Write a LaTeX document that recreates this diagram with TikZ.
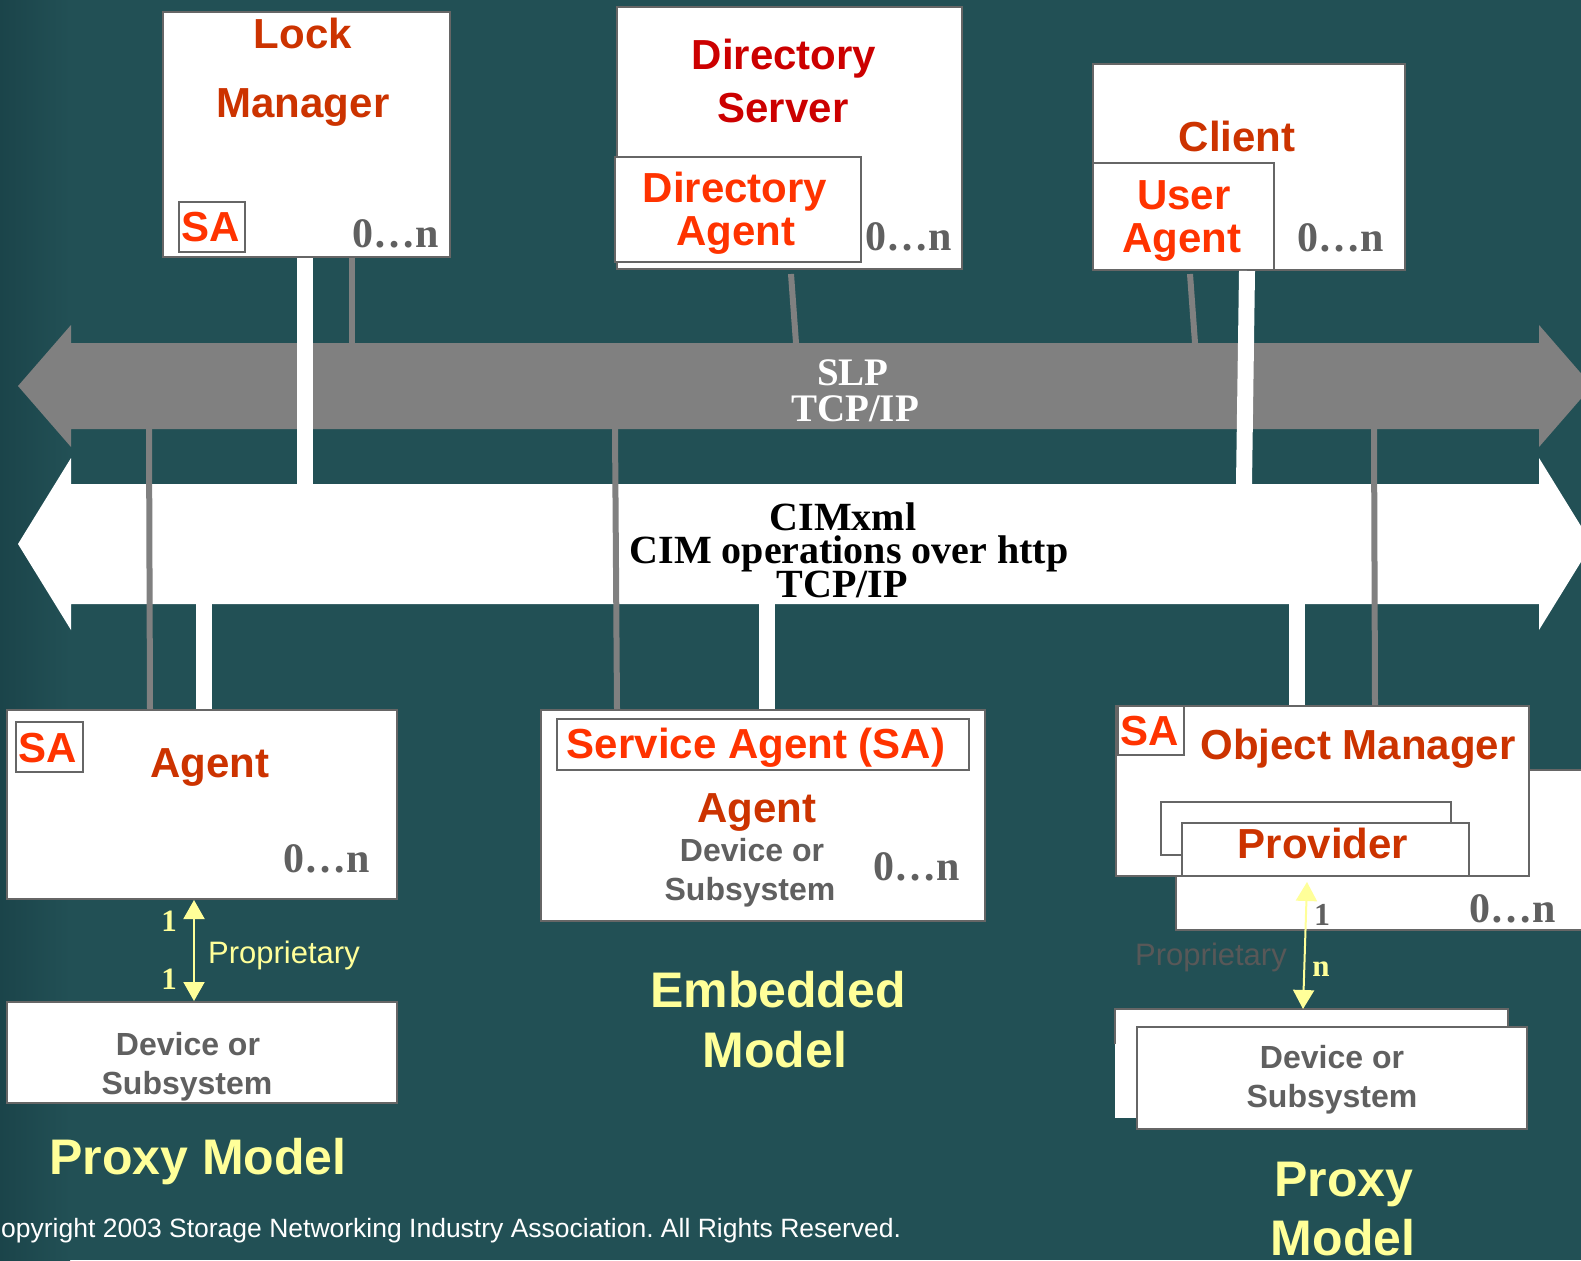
\documentclass[tikz,border=0pt]{standalone}
\usepackage{fontspec}
\setmainfont{Liberation Sans}
\newfontfamily\romanface{Liberation Serif}
\usetikzlibrary{arrows.meta,calc}

\definecolor{bgteal}{RGB}{34,80,85}
\definecolor{bgdark}{RGB}{27,68,74}
\definecolor{bargray}{RGB}{128,128,128}
\definecolor{edgegray}{RGB}{102,102,102}
\definecolor{labelred}{RGB}{204,51,0}
\definecolor{dirred}{RGB}{204,0,0}
\definecolor{brightred}{RGB}{255,51,0}
\definecolor{softyellow}{RGB}{255,255,153}
\definecolor{countgray}{RGB}{96,96,96}
\definecolor{dimgray}{RGB}{88,88,88}

\begin{document}
\begin{tikzpicture}[x=1pt,y=-1pt,
  box/.style={draw=edgegray,line width=2pt,fill=white,inner sep=0pt,anchor=north west},
  bar/.style={inner sep=0pt,outer sep=0pt,anchor=north west},
  wirewhite/.style={draw=white,line width=16pt},
  wiregray/.style={draw=bargray,line width=6pt},
  link/.style={draw=softyellow,line width=2pt,
    arrows={Triangle[width=21pt,length=19pt,fill=softyellow]-Triangle[width=21pt,length=19pt,fill=softyellow]}},
  txt/.style={inner sep=0pt,anchor=base},
  head/.style={txt,font=\fontsize{42}{48}\selectfont\bfseries},
  darkhead/.style={head,text=labelred},
  brighthead/.style={head,text=brightred},
  devtxt/.style={txt,font=\fontsize{32}{38}\selectfont\bfseries,text=countgray},
  counttxt/.style={inner sep=0pt,anchor=base west,font=\romanface\fontsize{42}{48}\selectfont\bfseries,text=countgray},
  modeltxt/.style={txt,font=\fontsize{50}{58}\selectfont\bfseries,text=softyellow},
  protxt/.style={txt,font=\romanface\fontsize{39}{44}\selectfont\bfseries},
  cimtxt/.style={txt,font=\romanface\fontsize{40}{44}\selectfont\bfseries,text=black},
  multtxt/.style={txt,font=\romanface\fontsize{31}{36}\selectfont\bfseries},
  proptxt/.style={inner sep=0pt,anchor=base west,font=\fontsize{31}{36}\selectfont},
]
\useasboundingbox (0,0) rectangle (1581,1260);
\clip (0,0) rectangle (1581,1260);

% background
\fill[bgteal] (0,0) rectangle (1581,1260);
\shade[left color=bgdark,right color=bgteal] (0,0) rectangle (70,1260);

% protocol bars
\fill[bargray] (18,386) -- (71,325) -- (71,343) -- (1539,343) -- (1539,325) -- (1592,386)
  -- (1539,447) -- (1539,429) -- (71,429) -- (71,447) -- cycle;
\node[bar,minimum width=1468pt,minimum height=86pt] (slpbar) at (71,343) {};
\fill[white] (18,544) -- (71,458) -- (71,484) -- (1539,484) -- (1539,458) -- (1592,544)
  -- (1539,630) -- (1539,604) -- (71,604) -- (71,630) -- cycle;
\node[bar,minimum width=1468pt,minimum height=120pt] (cimbar) at (71,484) {};

% top row
\node[box,minimum width=287pt,minimum height=245pt] (lock) at (162,11) {};
\node[box,minimum width=66pt,minimum height=50pt] (locksa) at (178,201) {};
\node[box,minimum width=345pt,minimum height=262pt] (ds) at (616,6) {};
\node[box,minimum width=246pt,minimum height=105pt] (da) at (614,156) {};
\node[box,minimum width=312pt,minimum height=206pt] (cl) at (1092,63) {};
\node[box,minimum width=181pt,minimum height=107pt] (ua) at (1092,162) {};

% bottom left: proxy model
\node[box,minimum width=390pt,minimum height=189pt] (ag) at (6,709) {};
\node[box,minimum width=67pt,minimum height=50pt] (agsa) at (15,721) {};
\node[box,minimum width=390pt,minimum height=101pt] (ldev) at (6,1001) {};

% bottom middle: embedded model
\node[box,minimum width=444pt,minimum height=211pt] (mb) at (540,709) {};
\node[box,minimum width=412pt,minimum height=51pt] (msa) at (556,718) {};

% bottom right: proxy model
\node[box,minimum width=440pt,minimum height=160pt] (omback) at (1175,769) {};
\node[box,minimum width=413pt,minimum height=170pt] (om) at (1115,705) {};
\node[box,minimum width=66pt,minimum height=49pt] (omsa) at (1117,705) {};
\node[box,minimum width=290pt,minimum height=53pt] (provback) at (1160,801) {};
\node[box,minimum width=287pt,minimum height=53pt] (prov) at (1181,822) {};
\node[box,draw=none,outer sep=0pt,minimum width=393pt,minimum height=109pt] (rdevback) at (1115,1009) {};
\draw[edgegray,line width=2pt] ($(rdevback.north west)+(0,35)$) -- (rdevback.north west)
  -- (rdevback.north east) -- (rdevback.south east);
\node[box,minimum width=390pt,minimum height=102pt] (rdev) at (1136,1026) {};

% connectors to the bars
\coordinate (lockW) at ($(lock.south west)+(143,0)$);
\coordinate (lockG) at ($(lock.south west)+(190,0)$);
\draw[wirewhite] (lockW) -- (lockW |- cimbar.north);
\draw[wiregray] (lockG) -- (lockG |- slpbar.north);

\coordinate (dsG) at ($(ds.south west)+(175,4)$);
\draw[wiregray] (dsG) -- ($(dsG |- slpbar.north)+(5,0)$);

\coordinate (clW) at ($(cl.south west)+(155,0)$);
\coordinate (clG) at ($(cl.south west)+(98,3)$);
\draw[wirewhite] (clW) -- ($(clW |- cimbar.north)+(-3,0)$);
\draw[wiregray] (clG) -- ($(clG |- slpbar.north)+(5,0)$);

\coordinate (agG) at ($(ag.north west)+(144,0)$);
\coordinate (agW) at ($(ag.north west)+(198,0)$);
\draw[wiregray] ($(agG |- slpbar.south)+(-1,0)$) -- (agG);
\draw[wirewhite] (agW |- cimbar.south) -- (agW);

\coordinate (mG) at ($(mb.north west)+(77,0)$);
\coordinate (mW) at ($(mb.north west)+(227,0)$);
\draw[wiregray] ($(mG |- slpbar.south)+(-2,0)$) -- (mG);
\draw[wirewhite] (mW |- cimbar.south) -- (mW);

\coordinate (omW) at ($(om.north west)+(182,0)$);
\coordinate (omG) at ($(om.north west)+(260,0)$);
\draw[wirewhite] (omW |- cimbar.south) -- (omW);
\draw[wiregray] ($(omG |- slpbar.south)+(-1,0)$) -- (omG);

% proprietary links
\coordinate (lkA) at ($(ag.south west)+(188,0)$);
\draw[link] (lkA) -- (lkA |- ldev.north);
\coordinate (lkB) at ($(prov.south west)+(126,5)$);
\draw[link] (lkB) -- ($(lkB |- rdevback.north)+(-4,0)$);

% bar labels
\node[protxt,text=white] (slp1) at (853,385) {SLP};
\node[protxt,text=white] (slp2) at (855,421) {TCP/IP};
\node[cimtxt] (cim1) at (843,530) {CIMxml};
\node[cimtxt] (cim2) at (849,563) {CIM operations over http};
\node[cimtxt] (cim3) at (842,597) {TCP/IP};

% top row labels
\node[darkhead] (lockt1) at (303,49) {Lock};
\node[darkhead] (lockt2) at (303,118) {Manager};
\node[brighthead] (locksat) at (211,241) {SA};
\node[counttxt] (lockn) at (352,247) {0…n};

\node[head,text=dirred] (dst1) at (784,70) {Directory};
\node[head,text=dirred] (dst2) at (783,123) {Server};
\node[brighthead] (dat1) at (735,203) {Directory};
\node[brighthead] (dat2) at (736,245) {Agent};
\node[counttxt] (dsn) at (865,250) {0…n};

\node[darkhead] (clt) at (1237,152) {Client};
\node[brighthead] (uat1) at (1184,209) {User};
\node[brighthead] (uat2) at (1182,252) {Agent};
\node[counttxt] (cln) at (1297,251) {0…n};

% bottom left labels
\node[brighthead] (agsat) at (48,762) {SA};
\node[darkhead] (agt) at (210,777) {Agent};
\node[counttxt] (agn) at (283,872) {0…n};
\node[multtxt,text=softyellow] (lone1) at (169,931) {1};
\node[multtxt,text=softyellow] (lone2) at (169,989) {1};
\node[proptxt,text=softyellow] (lprop) at (208,963) {Proprietary};
\node[devtxt] (ldev1) at (188,1055) {Device or};
\node[devtxt] (ldev2) at (187,1094) {Subsystem};
\node[modeltxt] (lmodel) at (198,1174) {Proxy Model};

% bottom middle labels
\node[brighthead] (msat) at (756,758) {Service Agent (SA)};
\node[darkhead] (mt) at (757,822) {Agent};
\node[devtxt] (mdev1) at (752,861) {Device or};
\node[devtxt] (mdev2) at (750,900) {Subsystem};
\node[counttxt] (mn) at (873,880) {0…n};
\node[modeltxt] (em1) at (778,1007) {Embedded};
\node[modeltxt] (em2) at (775,1067) {Model};

% bottom right labels
\node[brighthead] (omsat) at (1150,745) {SA};
\node[darkhead] (omt) at (1358,759) {Object Manager};
\node[darkhead] (provt) at (1323,858) {Provider};
\node[multtxt,text=countgray,font=\romanface\fontsize{32}{36}\selectfont\bfseries] (rone) at (1322,925) {1};
\node[counttxt] (rn) at (1469,922) {0…n};
\node[multtxt,text=softyellow] (rmany) at (1321,976) {n};
\node[proptxt,text=dimgray] (rprop) at (1135,965) {Proprietary};
\node[devtxt] (rdev1) at (1332,1068) {Device or};
\node[devtxt] (rdev2) at (1332,1107) {Subsystem};
\node[modeltxt] (rmodel1) at (1344,1196) {Proxy};
\node[modeltxt] (rmodel2) at (1343,1255) {Model};

% footer
\node[inner sep=0pt,anchor=base west,font=\fontsize{26.5}{30}\selectfont\frenchspacing,text=white] (copy)
  at (1,1237) {opyright 2003 Storage Networking Industry Association. All Rights Reserved.};
\end{tikzpicture}
\end{document}
